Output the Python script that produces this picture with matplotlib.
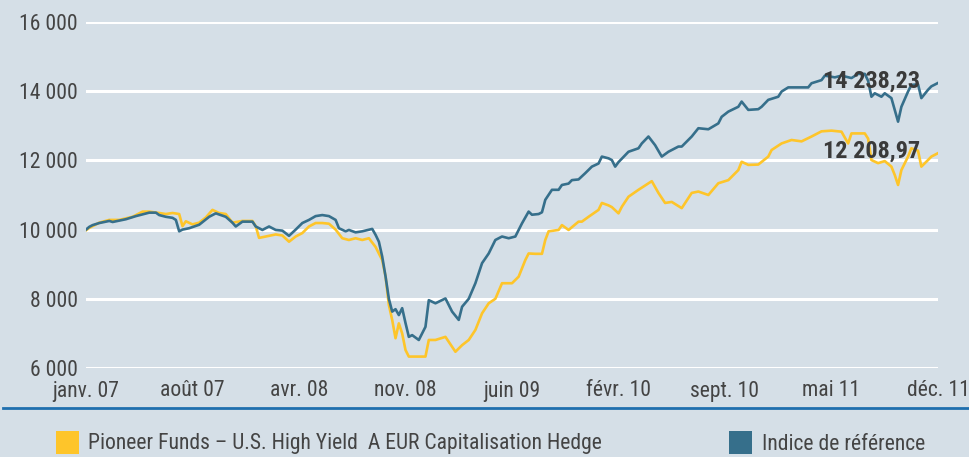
import numpy as np
import matplotlib
matplotlib.use('Agg')
import matplotlib.pyplot as plt
from matplotlib import font_manager
from matplotlib.patches import Rectangle
from matplotlib.lines import Line2D

# weekly positions (weeks since janv. 07) and values
fund_weeks = [0, 1, 4, 7, 10, 14, 17, 19, 22, 24, 26, 28, 29, 30, 32, 34, 36, 38, 40, 42,
              44, 47, 50, 51, 52, 54, 57, 59, 61, 63, 65, 67, 69, 71, 73, 75, 77, 79, 81, 83,
              85, 87, 89, 90, 91, 92, 93, 94, 95, 96, 97, 100, 102, 103, 105, 108, 111, 113, 115, 117,
              119, 121, 123, 125, 128, 130, 132, 133, 135, 137, 138, 139, 142, 143, 145, 148, 149, 151, 154, 155,
              157, 158, 160, 161, 163, 166, 169, 170, 172, 174, 176, 179, 182, 184, 187, 190, 193, 196, 197, 199,
              202, 205, 206, 209, 212, 215, 218, 221, 224, 227, 229, 230, 232, 234, 235, 236, 238, 240, 242, 243,
              244, 245, 247, 248, 250, 251, 253, 254, 256]
fund_vals = [9980, 10050, 10200, 10280, 10280, 10370, 10520, 10520, 10480, 10450, 10480, 10450, 10100, 10240, 10150, 10200, 10350, 10570, 10480, 10450,
             10200, 10250, 10250, 10100, 9760, 9800, 9860, 9830, 9650, 9800, 9900, 10090, 10190, 10190, 10170, 10000, 9750, 9700, 9750, 9700,
             9750, 9500, 9120, 8650, 7820, 7390, 6860, 7290, 7000, 6520, 6330, 6330, 6330, 6810, 6810, 6900, 6470, 6660, 6810, 7100,
             7580, 7870, 8000, 8450, 8450, 8640, 9120, 9310, 9300, 9300, 9700, 9950, 9990, 10130, 9990, 10230, 10230, 10370, 10570, 10770,
             10700, 10650, 10470, 10660, 10950, 11150, 11340, 11400, 11060, 10770, 10800, 10620, 11060, 11100, 11000, 11340, 11430, 11720, 11960, 11870,
             11880, 12110, 12300, 12490, 12590, 12550, 12690, 12840, 12860, 12830, 12490, 12780, 12780, 12780, 12630, 12010, 11920, 11980, 11820, 11580,
             11290, 11720, 12110, 12350, 12280, 11820, 12010, 12110, 12208.97]

bench_weeks = [0, 1, 2, 4, 7, 8, 10, 12, 15, 17, 19, 21, 22, 24, 26, 27, 28, 29, 31, 34,
               37, 39, 42, 44, 45, 47, 50, 51, 53, 55, 57, 59, 61, 63, 65, 67, 69, 71, 73, 75,
               76, 78, 79, 81, 83, 86, 87, 88, 89, 90, 91, 92, 93, 94, 95, 96, 97, 98, 100, 102,
               103, 105, 108, 110, 112, 113, 115, 117, 119, 121, 123, 125, 127, 129, 131, 133, 134, 136, 137, 138,
               140, 142, 143, 145, 146, 148, 150, 152, 154, 155, 157, 158, 159, 160, 163, 166, 167, 169, 171, 173,
               175, 178, 179, 182, 184, 187, 190, 191, 193, 196, 197, 199, 202, 203, 205, 208, 209, 211, 214, 217,
               218, 221, 222, 225, 227, 230, 232, 234, 235, 236, 237, 239, 240, 242, 243, 244, 245, 247, 248, 250,
               251, 253, 254, 256]
bench_vals = [10000, 10080, 10130, 10190, 10250, 10220, 10260, 10300, 10390, 10440, 10490, 10490, 10420, 10370, 10340, 10280, 9950, 10000, 10040, 10140,
              10370, 10470, 10370, 10200, 10090, 10230, 10230, 10090, 9990, 10090, 9990, 9970, 9820, 10000, 10190, 10280, 10390, 10420, 10390, 10280,
              10040, 9950, 9990, 9920, 9950, 10020, 9850, 9650, 9220, 8650, 8000, 7630, 7700, 7530, 7730, 7300, 6900, 6950, 6810, 7190,
              7960, 7870, 8010, 7630, 7390, 7770, 8000, 8450, 9030, 9310, 9700, 9800, 9750, 9800, 10180, 10520, 10430, 10450, 10500, 10860,
              11150, 11150, 11290, 11330, 11430, 11450, 11630, 11820, 11910, 12110, 12060, 12010, 11820, 11950, 12250, 12350, 12490, 12690, 12440, 12110,
              12250, 12400, 12400, 12690, 12930, 12900, 13070, 13260, 13410, 13550, 13700, 13460, 13480, 13550, 13750, 13840, 13990, 14110, 14110, 14110,
              14230, 14320, 14450, 14400, 14450, 14380, 14500, 14500, 14300, 13840, 13940, 13840, 13940, 13800, 13460, 13120, 13550, 13990, 14180, 14200,
              13800, 14040, 14140, 14238.23]

tick_labels = ['janv. 07', 'août 07', 'avr. 08', 'nov. 08', 'juin 09', 'févr. 10', 'sept. 10', 'mai 11', 'déc. 11']
y_ticks = [6000, 8000, 10000, 12000, 14000, 16000]
fund_name = 'Pioneer Funds – U.S. High Yield  A EUR Capitalisation Hedge'
bench_name = 'Indice de référence'

bg = '#d5dfe7'
yellow = '#fec52a'
blue = '#366f8b'
txt = '#444444'

# pick a narrow font if one is around
have = {f.name for f in font_manager.fontManager.ttflist}
narrow = None
for name in ['Liberation Sans Narrow', 'Roboto Condensed', 'Open Sans Condensed',
             'DejaVu Sans Condensed', 'Noto Sans Condensed']:
    if name in have:
        narrow = name
        break
if narrow is None:
    narrow = 'Lato' if 'Lato' in have else 'DejaVu Sans'
plt.rcParams['font.family'] = [narrow, 'DejaVu Sans']
fs = 15.6 if narrow != 'Lato' else 14

fig = plt.figure(figsize=(9.69, 4.57), dpi=100, facecolor=bg)
ax = fig.add_axes([86/969, 1-368/457, (938-86)/969, (368-22)/457], facecolor=bg)

for y in y_ticks:
    ax.axhline(y, color='white', lw=2.2, zorder=1)

ax.plot(fund_weeks, fund_vals, color=yellow, lw=1.9, zorder=3)
ax.plot(bench_weeks, bench_vals, color=blue, lw=1.9, zorder=4)

ax.set_xlim(0, 256)
ax.set_ylim(6000, 16000)
for s in ax.spines.values():
    s.set_visible(False)

ax.set_yticks(y_ticks)
ax.set_yticklabels([f'{v:,}'.replace(',', ' ') for v in y_ticks])
ax.set_xticks(np.linspace(0, 256, len(tick_labels)))
ax.set_xticklabels(tick_labels)
ax.tick_params(length=0, labelsize=fs, colors=txt)
ax.tick_params(axis='y', pad=6)
ax.tick_params(axis='x', pad=9)

# end values
for val, lab in [(fund_vals[-1], '12 208,97'), (bench_vals[-1], '14 238,23')]:
    ax.text(250.5, val + 60, lab, ha='right', va='center', fontsize=17.5,
            fontweight='bold', color='#3a3a3a', zorder=5)

# separator line under the axis
fig.add_artist(Line2D([3/969, 1], [1-408/457, 1-408/457], color='#1f6fae', lw=2))

# legend
fig.add_artist(Rectangle((56/969, 1-454/457), 23/969, 23/457, color=yellow, lw=0))
fig.text(88/969, 1-444/457, fund_name, fontsize=fs, color=txt, va='center')
fig.add_artist(Rectangle((729/969, 1-454/457), 23/969, 23/457, color=blue, lw=0))
fig.text(762/969, 1-444/457, bench_name, fontsize=fs, color=txt, va='center')

fig.savefig('out.png', dpi=100, facecolor=bg)
